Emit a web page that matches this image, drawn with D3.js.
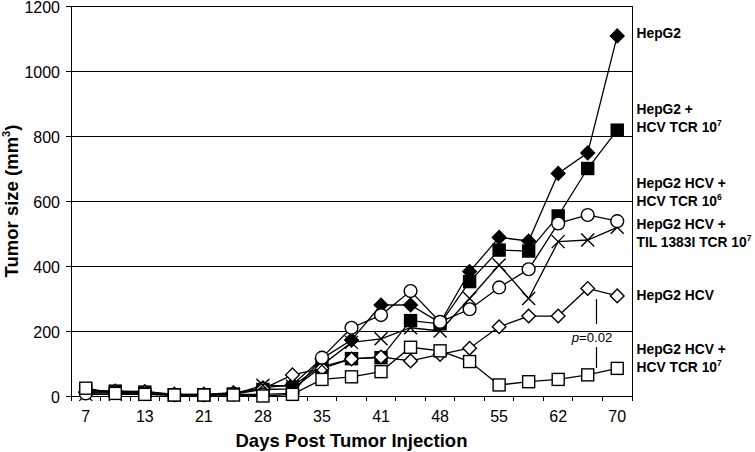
<!DOCTYPE html>
<html><head><meta charset="utf-8">
<script src="https://cdn.jsdelivr.net/npm/d3@7"></script>
<style>
html,body{margin:0;padding:0;background:#fff;}
svg{display:block;font-family:"Liberation Sans",Arial,sans-serif;}
</style></head>
<body>
<svg id="chart" width="755" height="452"></svg>
<script>
// ---- data ----
const days = [7,10,13,17,21,24,28,31,35,38,41,44,48,51,55,58,62,66,70];
const tickLabels = ["7","13","21","28","35","41","48","55","62","70"];
const yTicks = [0,200,400,600,800,1000,1200];

const hepg2          = [12,12,10,5,5,8,25,35,115,172,280,280,225,383,488,477,685,748,1108];
const hepg2TCR7      = [18,15,12,4,4,6,20,22,90,115,118,232,222,352,449,446,554,700,818];
const hcvTCR6        = [8,10,8,3,3,5,5,8,118,210,249,323,228,267,334,390,531,557,538];
const hcvTIL7        = [5,5,5,3,3,5,33,30,95,165,176,210,200,300,403,300,475,480,519];
const hepg2HCV       = [12,15,14,5,5,10,22,65,85,114,120,108,128,147,213,246,246,331,308];
const hcvTCR7        = [24,8,5,3,3,3,0,5,51,59,75,150,139,106,34,44,51,65,85];

const seriesNames = [
  ["HepG2"],
  ["HepG2 +", "HCV TCR 10|7"],
  ["HepG2 HCV +", "HCV TCR 10|6"],
  ["HepG2 HCV +", "TIL 1383I TCR 10|7"],
  ["HepG2 HCV"],
  ["HepG2 HCV +", "HCV TCR 10|7"]
];
const pLabel = "=0.02";

// ---- layout ----
const L = 71, R = 632, T = 6, B = 396;
const labelCenterY = [33, 118, 192, 233, 295, 358];
const series = [
  {v: hepg2,     m: "diamond", fill: "#000"},
  {v: hepg2TCR7, m: "square",  fill: "#000"},
  {v: hepg2HCV,  m: "diamond", fill: "#fff"},
  {v: hcvTIL7,   m: "cross",   fill: "none"},
  {v: hcvTCR6,   m: "circle",  fill: "#fff"},
  {v: hcvTCR7,   m: "square",  fill: "#fff"}
];

const svg = d3.select("#chart");
const x = d3.scaleBand().domain(days).range([L, R]).paddingInner(0).paddingOuter(0);
const y = d3.scaleLinear().domain([0,1200]).range([B, T]);
const cx = d => x(d) + x.bandwidth()/2;

// grid
svg.append("g").selectAll("line").data(yTicks.filter(t=>t>0)).join("line")
  .attr("x1", L).attr("x2", R).attr("y1", d=>y(d)).attr("y2", d=>y(d))
  .attr("stroke", "#000").attr("stroke-width", 1).attr("shape-rendering","crispEdges");
// right border
svg.append("line").attr("x1", R).attr("x2", R).attr("y1", y(1200)).attr("y2", y(0))
  .attr("stroke","#000").attr("stroke-width",1).attr("shape-rendering","crispEdges");

// y axis
const yAxis = d3.axisLeft(y).tickValues(yTicks).tickSize(5).tickPadding(6).tickFormat(d3.format("d"));
const gy = svg.append("g").attr("transform", `translate(${L},0)`).call(yAxis);
gy.select(".domain").attr("stroke","#000").attr("shape-rendering","crispEdges");
gy.selectAll(".tick line").attr("stroke","#000").attr("shape-rendering","crispEdges");
gy.selectAll("text").attr("font-size", 16).attr("fill","#000")
  .attr("font-family","'Liberation Sans',Arial,sans-serif").attr("y", 1);

// x axis: boundary ticks
const bounds = days.map(d => x(d)).concat([R]);
svg.append("line").attr("x1", L).attr("x2", R).attr("y1", B).attr("y2", B)
  .attr("stroke","#000").attr("shape-rendering","crispEdges");
svg.append("g").selectAll("line").data(bounds).join("line")
  .attr("x1", d=>d).attr("x2", d=>d).attr("y1", B).attr("y2", B+5)
  .attr("stroke","#000").attr("shape-rendering","crispEdges");
svg.append("g").selectAll("text").data(tickLabels).join("text")
  .attr("x", d => cx(+d)).attr("y", B+25.5).attr("text-anchor","middle")
  .attr("font-size",16).text(d=>d);

// axis titles
svg.append("text").attr("x", (L+R)/2).attr("y", 447)
  .attr("text-anchor","middle").attr("font-size",18.5).attr("font-weight","bold")
  .text("Days Post Tumor Injection");
const yt = svg.append("text").attr("transform","translate(17.5,201) rotate(-90)")
  .attr("text-anchor","middle").attr("font-size",18.5).attr("font-weight","bold");
yt.append("tspan").text("Tumor size (mm");
yt.append("tspan").attr("font-size",11).attr("dy",-8).text("3");
yt.append("tspan").attr("dy",8).text(")");

// lines
const line = d3.line().x((v,i)=>cx(days[i])).y(v=>y(v));
series.forEach(s => {
  svg.append("path").attr("d", line(s.v)).attr("fill","none")
    .attr("stroke","#000").attr("stroke-width",1.3);
});

// markers
function marker(g, m, fill, px, py){
  if (m === "diamond") {
    const r = 6.8;
    g.append("path").attr("d", `M${px},${py-r}L${px+r},${py}L${px},${py+r}L${px-r},${py}Z`)
      .attr("fill", fill).attr("stroke","#000").attr("stroke-width",1.4);
  } else if (m === "square") {
    const h = 6;
    g.append("rect").attr("x",px-h).attr("y",py-h).attr("width",2*h).attr("height",2*h)
      .attr("fill", fill).attr("stroke","#000").attr("stroke-width",1.4);
  } else if (m === "circle") {
    g.append("circle").attr("cx",px).attr("cy",py).attr("r",6.4)
      .attr("fill", fill).attr("stroke","#000").attr("stroke-width",1.4);
  } else if (m === "cross") {
    const h = 6.5;
    g.append("path").attr("d", `M${px-h},${py-h}L${px+h},${py+h}M${px-h},${py+h}L${px+h},${py-h}`)
      .attr("stroke","#000").attr("stroke-width",1.4).attr("fill","none");
  }
}
series.forEach(s => {
  const g = svg.append("g");
  s.v.forEach((v,i) => marker(g, s.m, s.fill, cx(days[i]), y(v)));
});

// legend labels
seriesNames.forEach((lines, k) => {
  const n = lines.length;
  const lh = 17.5;
  lines.forEach((ln, j) => {
    const cy = labelCenterY[k] + (j - (n-1)/2) * lh;
    const t = svg.append("text").attr("x", 636.5).attr("y", cy + 4.8)
      .attr("font-size", 13.8).attr("font-weight","bold");
    const parts = ln.split("|");
    t.append("tspan").text(parts[0]);
    if (parts[1]) t.append("tspan").attr("font-size",8.5).attr("dy",-5.5).text(parts[1]);
  });
});

// p-value annotation
const px = 596.5;
svg.append("line").attr("x1",px).attr("x2",px).attr("y1",299).attr("y2",324)
  .attr("stroke","#000").attr("stroke-width",1.2);
svg.append("line").attr("x1",px).attr("x2",px).attr("y1",347).attr("y2",368)
  .attr("stroke","#000").attr("stroke-width",1.2);
const pt = svg.append("text").attr("x", 592).attr("y", 342).attr("text-anchor","middle").attr("font-size",13.2);
pt.append("tspan").attr("font-style","italic").text("p");
pt.append("tspan").text(pLabel);
</script>
</body></html>
